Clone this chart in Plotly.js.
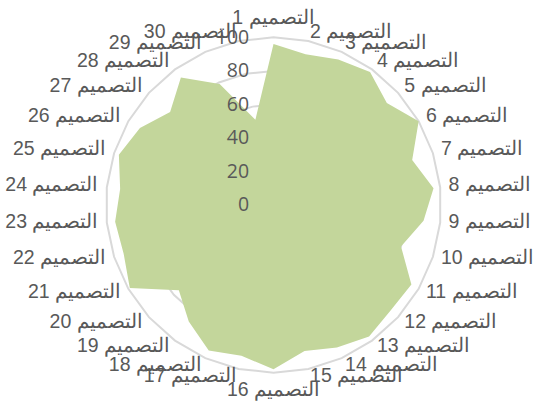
<!DOCTYPE html>
<html>
<head>
<meta charset="utf-8">
<script src="https://cdn.plot.ly/plotly-3.0.1.min.js"></script>
<style>html,body{margin:0;padding:0;background:#fff;}#chart{width:534px;height:413px;}</style>
</head>
<body>
<div id="chart"></div>
<script>
const categories = ["التصميم 1","التصميم 2","التصميم 3","التصميم 4","التصميم 5","التصميم 6","التصميم 7","التصميم 8","التصميم 9","التصميم 10",
  "التصميم 11","التصميم 12","التصميم 13","التصميم 14","التصميم 15","التصميم 16","التصميم 17","التصميم 18","التصميم 19","التصميم 20",
  "التصميم 21","التصميم 22","التصميم 23","التصميم 24","التصميم 25","التصميم 26","التصميم 27","التصميم 28","التصميم 29","التصميم 30"];
const values = [96, 92, 95, 98, 91, 100, 87, 96, 90, 80,
  95, 94, 97, 93, 89, 98, 92, 95, 86, 76,
  99, 94, 95, 92, 97, 92, 83, 94, 79, 52];
const radialTicks = [0, 20, 40, 60, 80, 100];

// label ring radius (in axis units) and placement, like Excel's category labels
const LABEL_R = 105;
const n = categories.length;
const labelPos = categories.map((c, i) => {
  const a = i * 360 / n;
  if (a === 0) return 'top center';
  if (a === 180) return 'bottom center';
  return a < 180 ? 'middle right' : 'middle left';
});

const area = {
  type: 'scatterpolar',
  r: values.concat([values[0]]),
  theta: categories.concat([categories[0]]),
  fill: 'toself',
  fillcolor: '#c3d69b',
  mode: 'lines',
  line: {color: '#c3d69b', width: 0},
  hoverinfo: 'none'
};

const labels = {
  type: 'scatterpolar',
  r: categories.map(() => LABEL_R),
  theta: categories,
  mode: 'text',
  text: categories,
  textposition: labelPos,
  textfont: {family: 'Liberation Sans, Arial, sans-serif', size: 19.5, color: '#595959'},
  cliponaxis: false,
  hoverinfo: 'none'
};

const layout = {
  width: 534, height: 413,
  margin: {l: 97, r: 84, t: 29, b: 32},
  paper_bgcolor: '#ffffff',
  showlegend: false,
  font: {family: 'Liberation Sans, Arial, sans-serif', color: '#595959'},
  polar: {
    bgcolor: 'rgba(0,0,0,0)',
    gridshape: 'linear',
    domain: {x: [0, 1], y: [0, 1]},
    radialaxis: {
      range: [0, LABEL_R],
      tickvals: radialTicks,
      ticktext: radialTicks.map(String),
      angle: 90,
      side: 'counterclockwise',
      showline: false,
      ticks: 'outside',
      ticklen: 17,
      tickcolor: 'rgba(0,0,0,0)',
      tickangle: 90,
      gridcolor: '#d9d9d9',
      gridwidth: 2,
      tickfont: {family: 'Open Sans, Lato, sans-serif', size: 19.5, color: '#595959'},
      layer: 'above traces'
    },
    angularaxis: {
      direction: 'clockwise',
      rotation: 90,
      showgrid: false,
      showline: false,
      ticks: '',
      showticklabels: false
    }
  }
};

Plotly.newPlot('chart', [area, labels], layout, {staticPlot: true, displayModeBar: false});
</script>
</body>
</html>
